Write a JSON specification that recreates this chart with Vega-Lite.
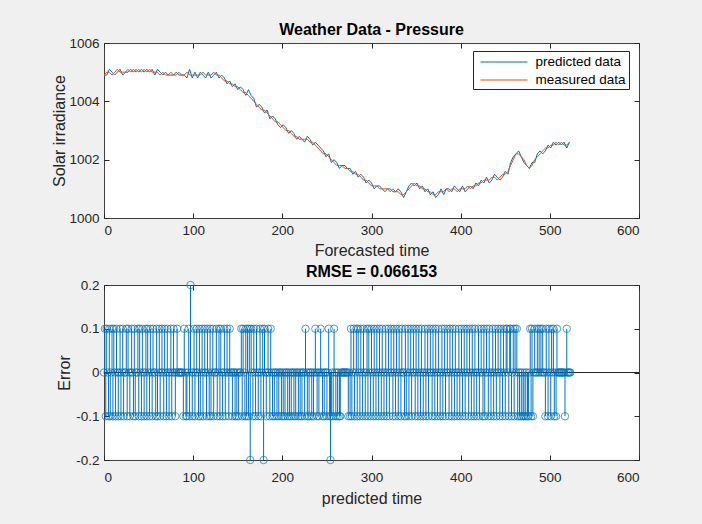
{
"$schema": "https://vega.github.io/schema/vega-lite/v6.json",
"background": "#f0f0f0",
"padding": {"left": 51, "top": 21, "right": 64, "bottom": 18},
"spacing": 4,
"resolve": {"scale": {"color": "independent"}},
"config": {
  "font": "Liberation Sans",
  "view": {"stroke": "#404040", "strokeWidth": 1, "fill": "white"},
  "axis": {"grid": false, "domain": false, "ticks": true, "tickSize": -5, "tickColor": "#262626", "labelColor": "#262626", "labelFontSize": 13.5, "titleFontSize": 16, "titleFontWeight": "normal", "titleColor": "#262626"},
  "axisX": {"labelPadding": 10, "titlePadding": 6},
  "axisY": {"labelPadding": 10, "titlePadding": 1},
  "title": {"fontSize": 16, "fontWeight": "bold", "color": "#000000", "offset": -2, "anchor": "middle"},
  "legend": {"orient": "none", "legendX": 369, "legendY": 8, "fillColor": "white", "strokeColor": "#262626", "padding": 2.5, "symbolType": "M-2.94,0H2.94", "symbolSize": 256, "symbolOffset": 20, "symbolStrokeWidth": 1, "labelFontSize": 13.5, "labelColor": "#000000", "rowPadding": 3, "labelOffset": 23}
},
"datasets": {
"top": [
{"t":0,"p":1004.9,"m":1004.9},{"t":3,"p":1004.9,"m":1005.0},{"t":6,"p":1005.1,"m":1005.0},{"t":9,"p":1005.0,"m":1004.9},{"t":12,"p":1004.9,"m":1005.0},{"t":15,"p":1005.0,"m":1005.1},{"t":18,"p":1005.1,"m":1005.0},{"t":21,"p":1004.9,"m":1005.0},{"t":24,"p":1005.0,"m":1005.0},{"t":27,"p":1005.0,"m":1005.1},
{"t":30,"p":1005.1,"m":1005.0},{"t":33,"p":1005.0,"m":1005.1},{"t":36,"p":1005.1,"m":1005.0},{"t":39,"p":1005.0,"m":1005.1},{"t":42,"p":1005.1,"m":1005.0},{"t":45,"p":1005.0,"m":1005.1},{"t":48,"p":1005.1,"m":1005.0},{"t":51,"p":1005.0,"m":1005.1},{"t":54,"p":1005.1,"m":1005.0},{"t":57,"p":1004.9,"m":1005.0},
{"t":60,"p":1005.1,"m":1005.0},{"t":63,"p":1005.0,"m":1004.9},{"t":66,"p":1004.9,"m":1005.0},{"t":69,"p":1005.0,"m":1004.9},{"t":72,"p":1004.9,"m":1004.9},{"t":75,"p":1004.9,"m":1005.0},{"t":78,"p":1004.9,"m":1004.9},{"t":81,"p":1005.0,"m":1004.9},{"t":84,"p":1004.9,"m":1005.0},{"t":87,"p":1004.9,"m":1004.9},
{"t":90,"p":1004.9,"m":1004.9},{"t":93,"p":1004.8,"m":1005.0},{"t":96,"p":1005.1,"m":1004.9},{"t":99,"p":1004.8,"m":1004.9},{"t":102,"p":1005.0,"m":1004.9},{"t":105,"p":1004.8,"m":1004.9},{"t":108,"p":1005.0,"m":1004.9},{"t":111,"p":1004.9,"m":1005.0},{"t":114,"p":1004.8,"m":1004.9},{"t":117,"p":1005.0,"m":1004.9},
{"t":120,"p":1004.8,"m":1004.9},{"t":123,"p":1004.9,"m":1005.0},{"t":126,"p":1005.0,"m":1004.9},{"t":129,"p":1004.8,"m":1004.9},{"t":132,"p":1004.9,"m":1004.8},{"t":135,"p":1004.8,"m":1004.7},{"t":138,"p":1004.6,"m":1004.7},{"t":141,"p":1004.7,"m":1004.6},{"t":144,"p":1004.5,"m":1004.6},{"t":147,"p":1004.6,"m":1004.5},
{"t":150,"p":1004.4,"m":1004.5},{"t":153,"p":1004.5,"m":1004.4},{"t":156,"p":1004.4,"m":1004.3},{"t":159,"p":1004.2,"m":1004.3},{"t":162,"p":1004.4,"m":1004.2},{"t":165,"p":1004.2,"m":1004.1},{"t":168,"p":1004.1,"m":1004.0},{"t":171,"p":1003.8,"m":1003.9},{"t":174,"p":1003.9,"m":1003.8},{"t":177,"p":1003.8,"m":1003.7},
{"t":180,"p":1003.6,"m":1003.7},{"t":183,"p":1003.7,"m":1003.6},{"t":186,"p":1003.4,"m":1003.5},{"t":189,"p":1003.5,"m":1003.4},{"t":192,"p":1003.4,"m":1003.3},{"t":195,"p":1003.2,"m":1003.3},{"t":198,"p":1003.1,"m":1003.2},{"t":201,"p":1003.2,"m":1003.1},{"t":204,"p":1003.1,"m":1003.0},{"t":207,"p":1002.9,"m":1003.0},
{"t":210,"p":1003.0,"m":1002.9},{"t":213,"p":1002.9,"m":1002.8},{"t":216,"p":1002.7,"m":1002.8},{"t":219,"p":1002.8,"m":1002.7},{"t":222,"p":1002.7,"m":1002.7},{"t":225,"p":1002.6,"m":1002.7},{"t":228,"p":1002.8,"m":1002.7},{"t":231,"p":1002.7,"m":1002.6},{"t":234,"p":1002.5,"m":1002.6},{"t":237,"p":1002.6,"m":1002.5},
{"t":240,"p":1002.5,"m":1002.4},{"t":243,"p":1002.4,"m":1002.3},{"t":246,"p":1002.3,"m":1002.2},{"t":249,"p":1002.1,"m":1002.2},{"t":252,"p":1002.2,"m":1002.1},{"t":255,"p":1001.9,"m":1002.0},{"t":258,"p":1002.0,"m":1001.9},{"t":261,"p":1001.9,"m":1001.8},{"t":264,"p":1001.7,"m":1001.8},{"t":267,"p":1001.8,"m":1001.8},
{"t":270,"p":1001.8,"m":1001.7},{"t":273,"p":1001.7,"m":1001.7},{"t":276,"p":1001.7,"m":1001.6},{"t":279,"p":1001.5,"m":1001.6},{"t":282,"p":1001.6,"m":1001.5},{"t":285,"p":1001.4,"m":1001.5},{"t":288,"p":1001.5,"m":1001.4},{"t":291,"p":1001.4,"m":1001.3},{"t":294,"p":1001.2,"m":1001.3},{"t":297,"p":1001.3,"m":1001.2},
{"t":300,"p":1001.2,"m":1001.1},{"t":303,"p":1001.0,"m":1001.1},{"t":306,"p":1001.1,"m":1001.1},{"t":309,"p":1001.1,"m":1001.0},{"t":312,"p":1001.0,"m":1001.0},{"t":315,"p":1000.9,"m":1001.0},{"t":318,"p":1001.0,"m":1001.0},{"t":321,"p":1001.0,"m":1000.9},{"t":324,"p":1000.9,"m":1001.0},{"t":327,"p":1000.9,"m":1000.9},
{"t":330,"p":1001.0,"m":1000.9},{"t":333,"p":1000.9,"m":1000.8},{"t":336,"p":1000.7,"m":1000.8},{"t":339,"p":1000.9,"m":1000.9},{"t":342,"p":1001.1,"m":1001.0},{"t":345,"p":1001.2,"m":1001.1},{"t":348,"p":1001.1,"m":1001.2},{"t":351,"p":1001.2,"m":1001.1},{"t":354,"p":1001.0,"m":1001.1},{"t":357,"p":1001.1,"m":1001.0},
{"t":360,"p":1000.9,"m":1001.0},{"t":363,"p":1001.0,"m":1000.9},{"t":366,"p":1000.8,"m":1000.9},{"t":369,"p":1000.9,"m":1000.8},{"t":372,"p":1000.7,"m":1000.8},{"t":375,"p":1000.8,"m":1000.9},{"t":378,"p":1001.0,"m":1000.9},{"t":381,"p":1000.8,"m":1000.9},{"t":384,"p":1001.0,"m":1001.0},{"t":387,"p":1001.0,"m":1000.9},
{"t":390,"p":1000.9,"m":1001.0},{"t":393,"p":1001.1,"m":1001.0},{"t":396,"p":1001.0,"m":1000.9},{"t":399,"p":1000.9,"m":1001.0},{"t":402,"p":1001.1,"m":1001.0},{"t":405,"p":1000.9,"m":1001.0},{"t":408,"p":1001.0,"m":1001.1},{"t":411,"p":1001.1,"m":1001.0},{"t":414,"p":1001.0,"m":1001.1},{"t":417,"p":1001.2,"m":1001.1},
{"t":420,"p":1001.1,"m":1001.2},{"t":423,"p":1001.3,"m":1001.2},{"t":426,"p":1001.2,"m":1001.3},{"t":429,"p":1001.4,"m":1001.3},{"t":432,"p":1001.2,"m":1001.3},{"t":435,"p":1001.3,"m":1001.4},{"t":438,"p":1001.5,"m":1001.4},{"t":441,"p":1001.4,"m":1001.3},{"t":444,"p":1001.3,"m":1001.4},{"t":447,"p":1001.4,"m":1001.5},
{"t":450,"p":1001.6,"m":1001.5},{"t":453,"p":1001.5,"m":1001.6},{"t":456,"p":1001.9,"m":1001.8},{"t":459,"p":1002.1,"m":1002.0},{"t":462,"p":1002.2,"m":1002.2},{"t":465,"p":1002.3,"m":1002.2},{"t":468,"p":1002.1,"m":1002.1},{"t":471,"p":1001.9,"m":1002.0},{"t":474,"p":1001.8,"m":1001.8},{"t":477,"p":1001.7,"m":1001.7},
{"t":480,"p":1001.9,"m":1001.8},{"t":483,"p":1001.9,"m":1002.0},{"t":486,"p":1002.2,"m":1002.1},{"t":489,"p":1002.3,"m":1002.2},{"t":492,"p":1002.2,"m":1002.3},{"t":495,"p":1002.3,"m":1002.4},{"t":498,"p":1002.5,"m":1002.4},{"t":501,"p":1002.4,"m":1002.5},{"t":504,"p":1002.6,"m":1002.5},{"t":507,"p":1002.5,"m":1002.6},
{"t":510,"p":1002.6,"m":1002.5},{"t":513,"p":1002.5,"m":1002.6},{"t":516,"p":1002.6,"m":1002.5},{"t":519,"p":1002.4,"m":1002.5},{"t":522,"p":1002.6,"m":1002.6}
],
"err": [
{"t":0,"e":0},{"t":1,"e":0.1},{"t":2,"e":-0.1},{"t":3,"e":0.1},{"t":4,"e":0},{"t":5,"e":-0.1},{"t":6,"e":0.1},{"t":7,"e":-0.1},{"t":8,"e":0},{"t":9,"e":0.1},
{"t":10,"e":-0.1},{"t":11,"e":0.1},{"t":12,"e":0},{"t":13,"e":-0.1},{"t":14,"e":0.1},{"t":15,"e":0},{"t":16,"e":-0.1},{"t":17,"e":0},{"t":18,"e":0.1},{"t":19,"e":-0.1},
{"t":20,"e":0},{"t":21,"e":0.1},{"t":22,"e":-0.1},{"t":23,"e":0},{"t":24,"e":0},{"t":25,"e":0.1},{"t":26,"e":-0.1},{"t":27,"e":0.1},{"t":28,"e":0},{"t":29,"e":-0.1},
{"t":30,"e":0},{"t":31,"e":0.1},{"t":32,"e":0},{"t":33,"e":-0.1},{"t":34,"e":0.1},{"t":35,"e":-0.1},{"t":36,"e":0},{"t":37,"e":0},{"t":38,"e":0.1},{"t":39,"e":-0.1},
{"t":40,"e":0.1},{"t":41,"e":0},{"t":42,"e":-0.1},{"t":43,"e":0.1},{"t":44,"e":0},{"t":45,"e":-0.1},{"t":46,"e":0},{"t":47,"e":0.1},{"t":48,"e":-0.1},{"t":49,"e":0.1},
{"t":50,"e":0},{"t":51,"e":-0.1},{"t":52,"e":0.1},{"t":53,"e":0},{"t":54,"e":-0.1},{"t":55,"e":0.1},{"t":56,"e":0},{"t":57,"e":0},{"t":58,"e":-0.1},{"t":59,"e":0.1},
{"t":60,"e":-0.1},{"t":61,"e":0},{"t":62,"e":0.1},{"t":63,"e":-0.1},{"t":64,"e":0},{"t":65,"e":0.1},{"t":66,"e":0},{"t":67,"e":-0.1},{"t":68,"e":0.1},{"t":69,"e":0},
{"t":70,"e":-0.1},{"t":71,"e":0.1},{"t":72,"e":0},{"t":73,"e":-0.1},{"t":74,"e":0},{"t":75,"e":0.1},{"t":76,"e":-0.1},{"t":77,"e":0},{"t":78,"e":0.1},{"t":79,"e":0},
{"t":80,"e":-0.1},{"t":81,"e":0},{"t":82,"e":0.1},{"t":83,"e":0},{"t":84,"e":0},{"t":85,"e":0},{"t":86,"e":0},{"t":87,"e":0},{"t":88,"e":0},{"t":89,"e":-0.1},
{"t":90,"e":0.1},{"t":91,"e":0},{"t":92,"e":-0.1},{"t":93,"e":-0.1},{"t":94,"e":0},{"t":95,"e":0.1},{"t":96,"e":-0.1},{"t":97,"e":0.2},{"t":98,"e":0},{"t":99,"e":-0.1},
{"t":100,"e":0},{"t":101,"e":0.1},{"t":102,"e":-0.1},{"t":103,"e":0},{"t":104,"e":0.1},{"t":105,"e":0},{"t":106,"e":-0.1},{"t":107,"e":0.1},{"t":108,"e":-0.1},{"t":109,"e":0},
{"t":110,"e":0.1},{"t":111,"e":-0.1},{"t":112,"e":0},{"t":113,"e":0.1},{"t":114,"e":0},{"t":115,"e":-0.1},{"t":116,"e":0.1},{"t":117,"e":0},{"t":118,"e":-0.1},{"t":119,"e":0.1},
{"t":120,"e":-0.1},{"t":121,"e":0},{"t":122,"e":0.1},{"t":123,"e":-0.1},{"t":124,"e":0},{"t":125,"e":0},{"t":126,"e":0.1},{"t":127,"e":-0.1},{"t":128,"e":0},{"t":129,"e":0.1},
{"t":130,"e":-0.1},{"t":131,"e":0.1},{"t":132,"e":0},{"t":133,"e":-0.1},{"t":134,"e":0},{"t":135,"e":0.1},{"t":136,"e":-0.1},{"t":137,"e":0},{"t":138,"e":0.1},{"t":139,"e":0},
{"t":140,"e":-0.1},{"t":141,"e":0.1},{"t":142,"e":0},{"t":143,"e":0},{"t":144,"e":-0.1},{"t":145,"e":0},{"t":146,"e":0},{"t":147,"e":-0.1},{"t":148,"e":0},{"t":149,"e":-0.1},
{"t":150,"e":0},{"t":151,"e":-0.1},{"t":152,"e":0},{"t":153,"e":0},{"t":154,"e":0.1},{"t":155,"e":-0.1},{"t":156,"e":0.1},{"t":157,"e":0},{"t":158,"e":-0.1},{"t":159,"e":0.1},
{"t":160,"e":-0.1},{"t":161,"e":0.1},{"t":162,"e":-0.1},{"t":163,"e":0.1},{"t":164,"e":-0.2},{"t":165,"e":0.1},{"t":166,"e":0},{"t":167,"e":-0.1},{"t":168,"e":0.1},{"t":169,"e":0},
{"t":170,"e":-0.1},{"t":171,"e":0.1},{"t":172,"e":0},{"t":173,"e":-0.1},{"t":174,"e":0},{"t":175,"e":0.1},{"t":176,"e":-0.1},{"t":177,"e":0},{"t":178,"e":0.1},{"t":179,"e":-0.2},
{"t":180,"e":0.1},{"t":181,"e":0},{"t":182,"e":-0.1},{"t":183,"e":0},{"t":184,"e":0.1},{"t":185,"e":0},{"t":186,"e":-0.1},{"t":187,"e":0.1},{"t":188,"e":0},{"t":189,"e":-0.1},
{"t":190,"e":0},{"t":191,"e":-0.1},{"t":192,"e":0},{"t":193,"e":0},{"t":194,"e":-0.1},{"t":195,"e":0},{"t":196,"e":-0.1},{"t":197,"e":0},{"t":198,"e":0},{"t":199,"e":-0.1},
{"t":200,"e":0},{"t":201,"e":-0.1},{"t":202,"e":0},{"t":203,"e":-0.1},{"t":204,"e":0},{"t":205,"e":0},{"t":206,"e":-0.1},{"t":207,"e":0},{"t":208,"e":-0.1},{"t":209,"e":0},
{"t":210,"e":-0.1},{"t":211,"e":0},{"t":212,"e":0},{"t":213,"e":-0.1},{"t":214,"e":0},{"t":215,"e":-0.1},{"t":216,"e":0},{"t":217,"e":0},{"t":218,"e":-0.1},{"t":219,"e":0},
{"t":220,"e":-0.1},{"t":221,"e":0},{"t":222,"e":-0.1},{"t":223,"e":0},{"t":224,"e":0},{"t":225,"e":-0.1},{"t":226,"e":0.1},{"t":227,"e":0},{"t":228,"e":-0.1},{"t":229,"e":0},
{"t":230,"e":-0.1},{"t":231,"e":0},{"t":232,"e":0},{"t":233,"e":-0.1},{"t":234,"e":0},{"t":235,"e":-0.1},{"t":236,"e":0},{"t":237,"e":0.1},{"t":238,"e":0},{"t":239,"e":-0.1},
{"t":240,"e":0},{"t":241,"e":-0.1},{"t":242,"e":0},{"t":243,"e":0.1},{"t":244,"e":0},{"t":245,"e":-0.1},{"t":246,"e":0},{"t":247,"e":-0.1},{"t":248,"e":0},{"t":249,"e":0},
{"t":250,"e":-0.1},{"t":251,"e":0},{"t":252,"e":0.1},{"t":253,"e":-0.1},{"t":254,"e":-0.2},{"t":255,"e":-0.1},{"t":256,"e":0},{"t":257,"e":-0.1},{"t":258,"e":0.1},{"t":259,"e":0},
{"t":260,"e":-0.1},{"t":261,"e":0},{"t":262,"e":-0.1},{"t":263,"e":0},{"t":264,"e":-0.1},{"t":265,"e":-0.1},{"t":266,"e":0},{"t":267,"e":0},{"t":268,"e":0},{"t":269,"e":0},
{"t":270,"e":0},{"t":271,"e":0},{"t":272,"e":0},{"t":273,"e":0},{"t":274,"e":-0.1},{"t":275,"e":0},{"t":276,"e":-0.1},{"t":277,"e":0.1},{"t":278,"e":-0.1},{"t":279,"e":0},
{"t":280,"e":0.1},{"t":281,"e":-0.1},{"t":282,"e":0},{"t":283,"e":0.1},{"t":284,"e":-0.1},{"t":285,"e":0.1},{"t":286,"e":0},{"t":287,"e":-0.1},{"t":288,"e":0.1},{"t":289,"e":0},
{"t":290,"e":-0.1},{"t":291,"e":0.1},{"t":292,"e":0},{"t":293,"e":-0.1},{"t":294,"e":0},{"t":295,"e":0.1},{"t":296,"e":-0.1},{"t":297,"e":0.1},{"t":298,"e":0},{"t":299,"e":-0.1},
{"t":300,"e":0.1},{"t":301,"e":0},{"t":302,"e":-0.1},{"t":303,"e":0.1},{"t":304,"e":0},{"t":305,"e":-0.1},{"t":306,"e":0.1},{"t":307,"e":0},{"t":308,"e":-0.1},{"t":309,"e":0.1},
{"t":310,"e":0},{"t":311,"e":-0.1},{"t":312,"e":0.1},{"t":313,"e":0},{"t":314,"e":-0.1},{"t":315,"e":0},{"t":316,"e":0.1},{"t":317,"e":-0.1},{"t":318,"e":0},{"t":319,"e":0.1},
{"t":320,"e":-0.1},{"t":321,"e":0},{"t":322,"e":0.1},{"t":323,"e":0},{"t":324,"e":-0.1},{"t":325,"e":0.1},{"t":326,"e":0},{"t":327,"e":-0.1},{"t":328,"e":0.1},{"t":329,"e":0},
{"t":330,"e":-0.1},{"t":331,"e":0.1},{"t":332,"e":0},{"t":333,"e":-0.1},{"t":334,"e":0.1},{"t":335,"e":0},{"t":336,"e":0},{"t":337,"e":-0.1},{"t":338,"e":0.1},{"t":339,"e":-0.1},
{"t":340,"e":0},{"t":341,"e":0.1},{"t":342,"e":-0.1},{"t":343,"e":0},{"t":344,"e":0.1},{"t":345,"e":-0.1},{"t":346,"e":0},{"t":347,"e":0.1},{"t":348,"e":0},{"t":349,"e":-0.1},
{"t":350,"e":0.1},{"t":351,"e":0},{"t":352,"e":-0.1},{"t":353,"e":0.1},{"t":354,"e":0},{"t":355,"e":-0.1},{"t":356,"e":0.1},{"t":357,"e":0},{"t":358,"e":-0.1},{"t":359,"e":0},
{"t":360,"e":0.1},{"t":361,"e":-0.1},{"t":362,"e":0},{"t":363,"e":0.1},{"t":364,"e":-0.1},{"t":365,"e":0},{"t":366,"e":0.1},{"t":367,"e":0},{"t":368,"e":-0.1},{"t":369,"e":0.1},
{"t":370,"e":0},{"t":371,"e":-0.1},{"t":372,"e":0.1},{"t":373,"e":0},{"t":374,"e":-0.1},{"t":375,"e":0.1},{"t":376,"e":0},{"t":377,"e":-0.1},{"t":378,"e":0},{"t":379,"e":0.1},
{"t":380,"e":-0.1},{"t":381,"e":0},{"t":382,"e":0.1},{"t":383,"e":-0.1},{"t":384,"e":0},{"t":385,"e":0.1},{"t":386,"e":0},{"t":387,"e":-0.1},{"t":388,"e":0.1},{"t":389,"e":0},
{"t":390,"e":-0.1},{"t":391,"e":0.1},{"t":392,"e":0},{"t":393,"e":-0.1},{"t":394,"e":0.1},{"t":395,"e":0},{"t":396,"e":-0.1},{"t":397,"e":0},{"t":398,"e":0.1},{"t":399,"e":-0.1},
{"t":400,"e":0},{"t":401,"e":0.1},{"t":402,"e":-0.1},{"t":403,"e":0},{"t":404,"e":0.1},{"t":405,"e":-0.1},{"t":406,"e":0},{"t":407,"e":0.1},{"t":408,"e":0},{"t":409,"e":-0.1},
{"t":410,"e":0.1},{"t":411,"e":0},{"t":412,"e":-0.1},{"t":413,"e":0.1},{"t":414,"e":0},{"t":415,"e":-0.1},{"t":416,"e":0.1},{"t":417,"e":0},{"t":418,"e":-0.1},{"t":419,"e":0},
{"t":420,"e":0.1},{"t":421,"e":-0.1},{"t":422,"e":0},{"t":423,"e":0.1},{"t":424,"e":0},{"t":425,"e":-0.1},{"t":426,"e":0.1},{"t":427,"e":-0.1},{"t":428,"e":0},{"t":429,"e":0.1},
{"t":430,"e":0},{"t":431,"e":-0.1},{"t":432,"e":0.1},{"t":433,"e":0},{"t":434,"e":-0.1},{"t":435,"e":0},{"t":436,"e":0.1},{"t":437,"e":-0.1},{"t":438,"e":0},{"t":439,"e":0.1},
{"t":440,"e":-0.1},{"t":441,"e":0},{"t":442,"e":0.1},{"t":443,"e":0},{"t":444,"e":-0.1},{"t":445,"e":0.1},{"t":446,"e":0},{"t":447,"e":-0.1},{"t":448,"e":0.1},{"t":449,"e":0},
{"t":450,"e":-0.1},{"t":451,"e":0.1},{"t":452,"e":0.1},{"t":453,"e":0},{"t":454,"e":-0.1},{"t":455,"e":0.1},{"t":456,"e":0.1},{"t":457,"e":-0.1},{"t":458,"e":0},{"t":459,"e":0.1},
{"t":460,"e":-0.1},{"t":461,"e":0.1},{"t":462,"e":0},{"t":463,"e":0.1},{"t":464,"e":-0.1},{"t":465,"e":0},{"t":466,"e":-0.1},{"t":467,"e":0},{"t":468,"e":-0.1},{"t":469,"e":0},
{"t":470,"e":-0.1},{"t":471,"e":-0.1},{"t":472,"e":0},{"t":473,"e":-0.1},{"t":474,"e":0},{"t":475,"e":-0.1},{"t":476,"e":-0.1},{"t":477,"e":0},{"t":478,"e":0.1},{"t":479,"e":-0.1},
{"t":480,"e":0.1},{"t":481,"e":-0.1},{"t":482,"e":0},{"t":483,"e":0.1},{"t":484,"e":0},{"t":485,"e":0},{"t":486,"e":0.1},{"t":487,"e":0},{"t":488,"e":0.1},{"t":489,"e":0},
{"t":490,"e":0.1},{"t":491,"e":0},{"t":492,"e":0.1},{"t":493,"e":0},{"t":494,"e":0},{"t":495,"e":-0.1},{"t":496,"e":0.1},{"t":497,"e":0},{"t":498,"e":-0.1},{"t":499,"e":0.1},
{"t":500,"e":0},{"t":501,"e":-0.1},{"t":502,"e":0.1},{"t":503,"e":0},{"t":504,"e":0.1},{"t":505,"e":-0.1},{"t":506,"e":0},{"t":507,"e":-0.1},{"t":508,"e":0.1},{"t":509,"e":0},
{"t":510,"e":0},{"t":511,"e":0},{"t":512,"e":0},{"t":513,"e":0},{"t":514,"e":0},{"t":515,"e":0},{"t":516,"e":0},{"t":517,"e":-0.1},{"t":518,"e":0},{"t":519,"e":0.1},
{"t":520,"e":0},{"t":521,"e":0},{"t":522,"e":0},{"t":523,"e":0}
]
},
"vconcat": [
{
  "title": "Weather Data - Pressure",
  "width": 535, "height": 175,
  "data": {"name": "top"},
  "resolve": {"axis": {"x": "independent", "y": "independent"}},
  "layer": [
    {"mark": {"type": "line", "strokeWidth": 1},
     "encoding": {
       "x": {"field": "t", "type": "quantitative", "scale": {"domain": [0, 600], "nice": false}, "axis": {"values": [0,100,200,300,400,500,600], "title": "Forecasted time"}},
       "y": {"field": "p", "type": "quantitative", "scale": {"domain": [1000, 1006], "nice": false, "zero": false}, "axis": {"values": [1000,1002,1004,1006], "format": "d", "title": "Solar irradiance"}},
       "color": {"datum": "predicted data", "type": "nominal", "scale": {"domain": ["predicted data", "measured data"], "range": ["#0072BD", "#D95319"]}, "legend": {"title": null}}
     }},
    {"mark": {"type": "line", "strokeWidth": 1},
     "encoding": {
       "x": {"field": "t", "type": "quantitative", "axis": {"orient": "top", "labels": false, "title": null, "values": [0,100,200,300,400,500,600]}},
       "y": {"field": "m", "type": "quantitative", "axis": {"orient": "right", "labels": false, "title": null, "values": [1000,1002,1004,1006]}},
       "color": {"datum": "measured data", "type": "nominal"}
     }}
  ]
},
{
  "title": "RMSE = 0.066153",
  "width": 535, "height": 175,
  "data": {"name": "err"},
  "resolve": {"axis": {"x": "independent", "y": "independent"}},
  "layer": [
    {"mark": {"type": "rule", "color": "#262626", "strokeWidth": 1},
     "encoding": {"y": {"datum": 0, "type": "quantitative", "axis": null}}},
    {"mark": {"type": "rule", "color": "#0072BD", "strokeWidth": 1},
     "encoding": {
       "x": {"field": "t", "type": "quantitative", "scale": {"domain": [0, 600], "nice": false}, "axis": {"values": [0,100,200,300,400,500,600], "title": "predicted time", "labelPadding": 15, "titlePadding": 7}},
       "y": {"field": "e", "type": "quantitative", "scale": {"domain": [-0.2, 0.2], "nice": false, "zero": false}, "axis": {"values": [-0.2,-0.1,0,0.1,0.2], "title": "Error", "titlePadding": 3, "labelExpr": "datum.value == 0 ? '0' : (datum.value < 0 ? '-' + format(-datum.value, '.1f') : format(datum.value, '.1f'))"}},
       "y2": {"datum": 0}
     }},
    {"mark": {"type": "point", "shape": "circle", "filled": false, "size": 55, "color": "#0072BD", "strokeWidth": 1},
     "encoding": {
       "x": {"field": "t", "type": "quantitative", "axis": {"orient": "top", "labels": false, "title": null, "values": [0,100,200,300,400,500,600]}},
       "y": {"field": "e", "type": "quantitative", "axis": {"orient": "right", "labels": false, "title": null, "values": [-0.2,-0.1,0,0.1,0.2]}}
     }}
  ]
}
]
}
